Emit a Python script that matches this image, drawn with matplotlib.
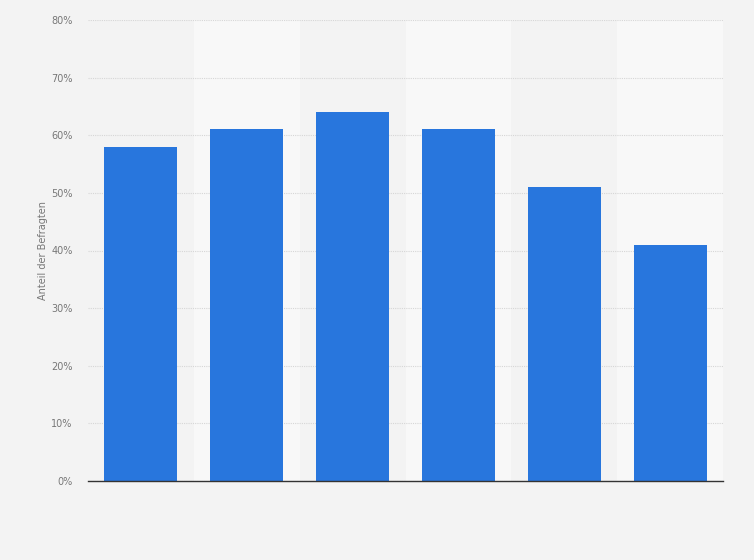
import matplotlib.pyplot as plt
import numpy as np

categories = ['1', '2', '3', '4', '5', '6']
values = [58, 61, 64, 61, 51, 41]
yticks = [0, 10, 20, 30, 40, 50, 60, 70, 80]

bg = '#f3f3f3'
fig = plt.figure(figsize=(7.54, 5.6), dpi=100, facecolor=bg)
ax = fig.add_axes([88/754, 79/560, 635/754, 461/560])
ax.set_facecolor(bg)

x = np.arange(len(categories))
# alternating column bands
for i in x:
    if i % 2 == 1:
        ax.axvspan(i - 0.5, i + 0.5, color='#f8f8f8', zorder=0, lw=0)

ax.bar(x, values, width=0.69, color='#2876dd', zorder=3)

ax.set_xlim(-0.5, len(categories) - 0.5)
ax.set_ylim(0, 80)
ax.set_yticks(yticks)
ax.set_yticklabels([f'{t}%' for t in yticks], fontsize=7, color='#777777')
ax.set_xticks([])
ax.yaxis.grid(True, linestyle=(0, (1, 1)), color='#d6d6d6', lw=0.8, zorder=1)
ax.tick_params(axis='y', length=0, pad=11)
for s in ['top', 'right', 'left']:
    ax.spines[s].set_visible(False)
ax.spines['bottom'].set_color('#333333')
ax.spines['bottom'].set_linewidth(1)
ax.spines['bottom'].set_zorder(4)

ax.set_ylabel('Anteil der Befragten', fontsize=7, color='#777777', labelpad=2)

fig.savefig('out.png', dpi=100, facecolor=bg)
